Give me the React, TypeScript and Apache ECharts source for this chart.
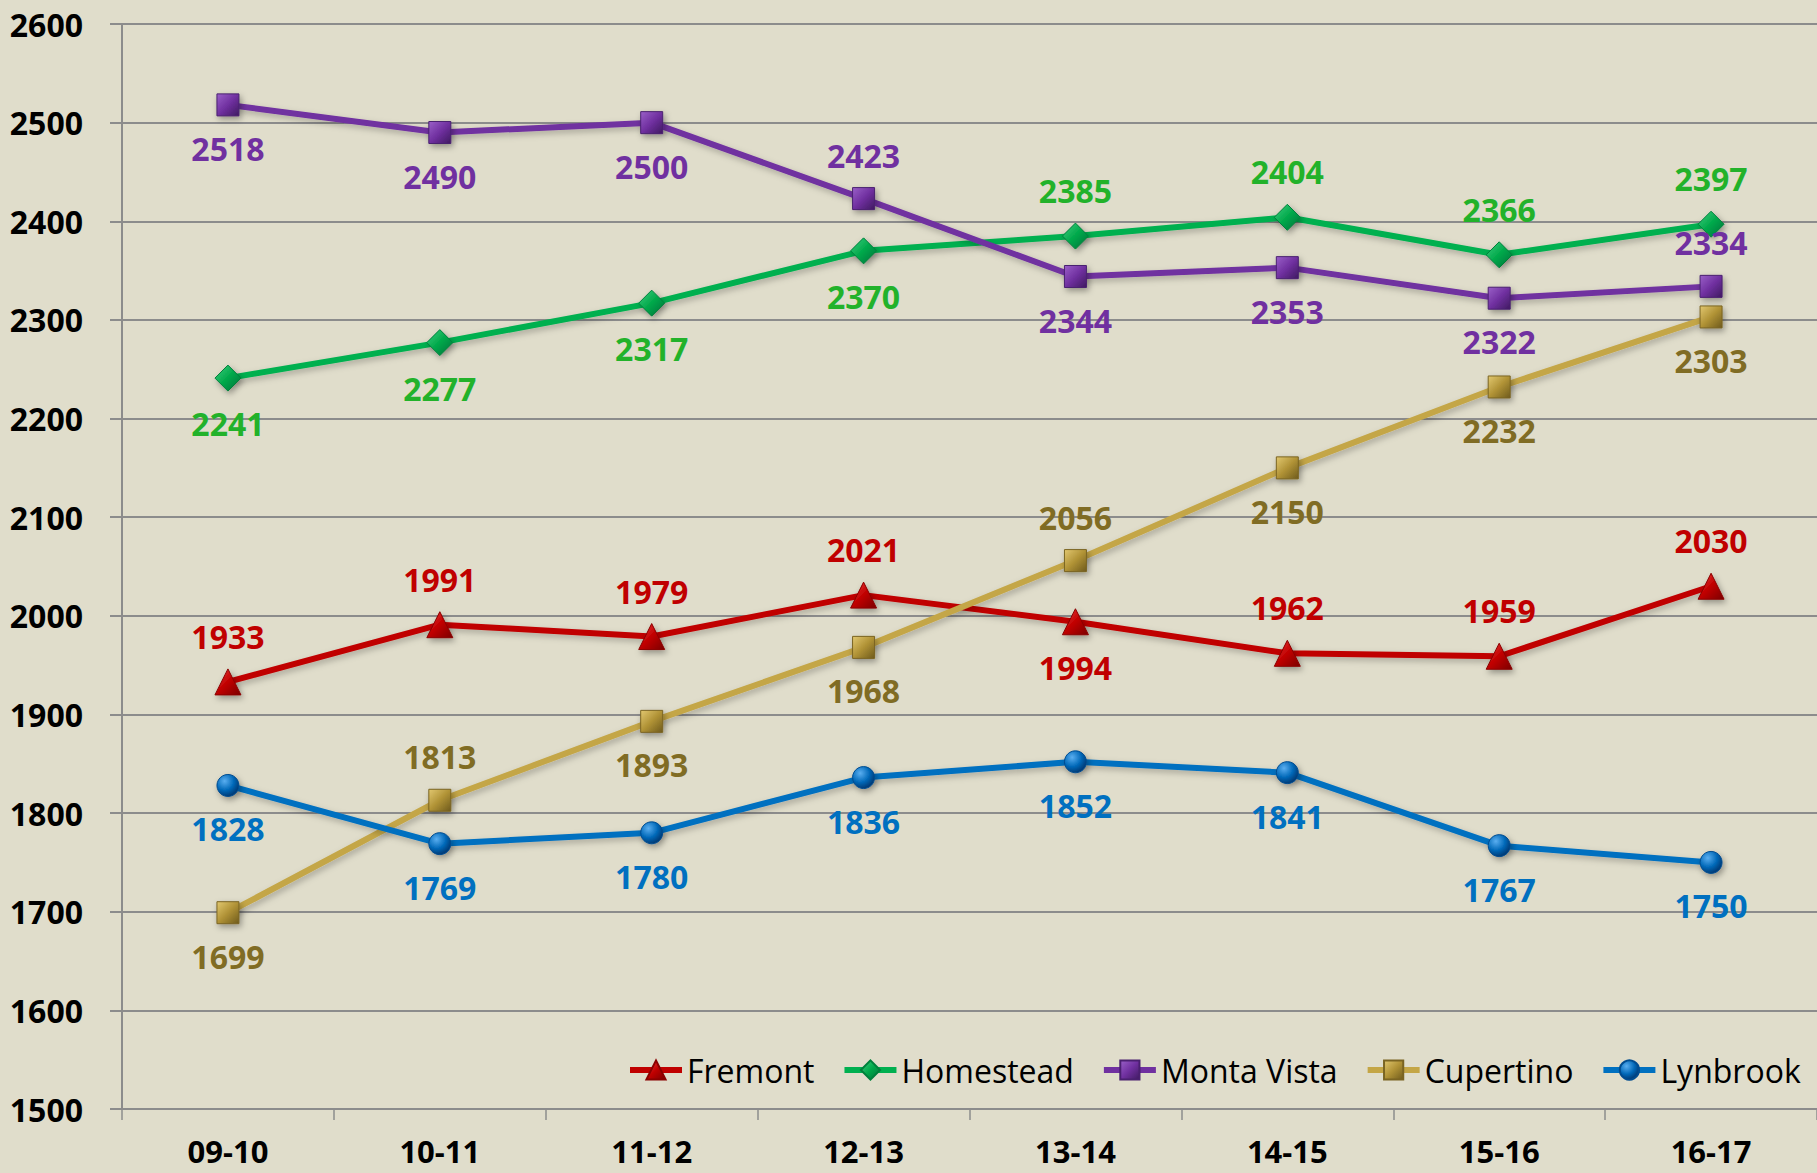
import React, { useEffect, useRef } from "react";
import * as echarts from "echarts";

const categories = ["09-10", "10-11", "11-12", "12-13", "13-14", "14-15", "15-16", "16-17"];
const fremont = [1933, 1991, 1979, 2021, 1994, 1962, 1959, 2030];
const homestead = [2241, 2277, 2317, 2370, 2385, 2404, 2366, 2397];
const montaVista = [2518, 2490, 2500, 2423, 2344, 2353, 2322, 2334];
const cupertino = [1699, 1813, 1893, 1968, 2056, 2150, 2232, 2303];
const lynbrook = [1828, 1769, 1780, 1836, 1852, 1841, 1767, 1750];

// label placement (top/bottom) per point
const T = "top", B = "bottom";
const fremontPos = [T, T, T, T, B, T, T, T];
const homesteadPos = [B, B, B, B, T, T, T, T];
const montaVistaPos = [B, B, B, T, B, B, B, T];
const cupertinoPos = [B, T, B, B, T, B, B, B];
const lynbrookPos = [B, B, B, B, B, B, B, B];

const FONT = "'Open Sans', Lato, sans-serif";

function grad(light: string, mid: string, dark: string) {
  return new echarts.graphic.LinearGradient(0, 0, 1, 1, [
    { offset: 0, color: light },
    { offset: 0.5, color: mid },
    { offset: 1, color: dark },
  ]);
}

export default function App() {
  const ref = useRef<HTMLDivElement>(null);
  useEffect(() => {
    const chart = echarts.init(ref.current!, undefined, { renderer: "svg" });
    const mk = (
      name: string,
      values: number[],
      pos: string[],
      lineColor: string,
      labelColor: string,
      symbol: string,
      size: number,
      fill: any,
      border: string
    ) => ({
      name,
      type: "line",
      data: values.map((v, i) => ({
        value: v,
        label: { position: pos[i] },
      })),
      symbol,
      symbolSize: size,
      showAllSymbol: true,
      lineStyle: {
        color: lineColor,
        width: 6,
        shadowColor: "rgba(0,0,0,0.25)",
        shadowBlur: 6,
        shadowOffsetX: 2,
        shadowOffsetY: 3,
      },
      itemStyle: {
        color: fill,
        borderColor: border,
        borderWidth: 1,
        shadowColor: "rgba(0,0,0,0.35)",
        shadowBlur: 6,
        shadowOffsetX: 2,
        shadowOffsetY: 3,
      },
      label: {
        show: true,
        color: labelColor,
        fontFamily: FONT,
        fontWeight: "bold",
        fontSize: 32,
        lineHeight: 34,
        distance: 15,
      },
      emphasis: { disabled: true },
      z: 3,
    });

    chart.setOption({
      animation: false,
      backgroundColor: "#E0DDCB",
      textStyle: { fontFamily: FONT },
      grid: { left: 122, right: 0, top: 24, bottom: 64, containLabel: false },
      legend: {
        left: 622,
        top: 1049,
        itemWidth: 52,
        itemHeight: 24,
        itemGap: 27,
        lineStyle: { width: 6 },
        textStyle: { fontFamily: FONT, fontSize: 32, color: "#000", padding: [0, 0, 0, 0] },
        data: ["Fremont", "Homestead", "Monta Vista", "Cupertino", "Lynbrook"],
      },
      xAxis: {
        type: "category",
        data: categories,
        boundaryGap: true,
        axisLine: { lineStyle: { color: "#8C8C8C", width: 2 } },
        axisTick: { show: true, length: 11, lineStyle: { color: "#8C8C8C", width: 1.5 } },
        axisLabel: {
          color: "#000",
          fontFamily: FONT,
          fontWeight: "bold",
          fontSize: 31,
          lineHeight: 31,
          margin: 26,
        },
      },
      yAxis: {
        type: "value",
        min: 1500,
        max: 2600,
        interval: 100,
        axisLine: { show: true, lineStyle: { color: "#8C8C8C", width: 2 } },
        axisTick: { show: true, length: 12, lineStyle: { color: "#8C8C8C", width: 2 } },
        splitLine: { lineStyle: { color: "#8C8C8C", width: 2 } },
        axisLabel: {
          color: "#000",
          fontFamily: FONT,
          fontWeight: "bold",
          fontSize: 32,
          margin: 39,
          formatter: (v: number) => String(v),
        },
      },
      series: [
        mk("Fremont", fremont, fremontPos, "#C00000", "#C00000", "triangle", 26,
          grad("#F04040", "#C00000", "#7A0000"), "#8A0000"),
        mk("Homestead", homestead, homesteadPos, "#00B050", "#22B22A", "diamond", 26,
          grad("#40D080", "#00A84A", "#00703A"), "#00803C"),
        mk("Monta Vista", montaVista, montaVistaPos, "#7030A0", "#7030A0", "rect", 22,
          grad("#9A60C8", "#7030A0", "#3F1A60"), "#4A2070"),
        mk("Cupertino", cupertino, cupertinoPos, "#C4A646", "#806C24", "rect", 22,
          grad("#E2C870", "#B09236", "#6E5A1C"), "#7A6422"),
        mk("Lynbrook", lynbrook, lynbrookPos, "#0070C0", "#0070C0", "circle", 22,
          new echarts.graphic.RadialGradient(0.35, 0.3, 0.7, [
            { offset: 0, color: "#5AAEF0" },
            { offset: 0.6, color: "#0068B8" },
            { offset: 1, color: "#003C78" },
          ]), "#004C90"),
      ],
    });
    return () => chart.dispose();
  }, []);
  return (
    <div
      ref={ref}
      style={{ position: "fixed", left: 0, top: 0, width: 1817, height: 1173 }}
    />
  );
}
